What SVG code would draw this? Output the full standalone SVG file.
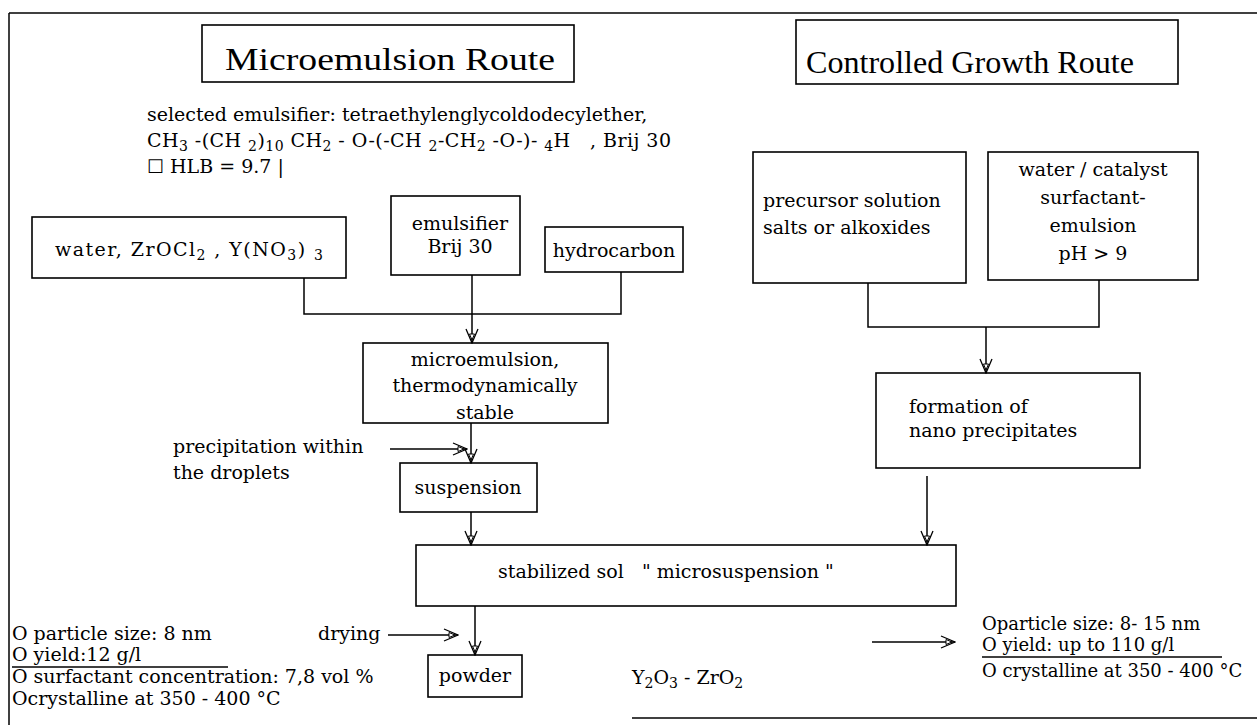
<svg xmlns="http://www.w3.org/2000/svg" width="1259" height="725" viewBox="0 0 1259 725">
<defs>
<marker id="ah" viewBox="0 0 16 14" refX="15" refY="7" markerWidth="16" markerHeight="14" markerUnits="userSpaceOnUse" orient="auto">
<path d="M1,1 L15,7 L1,13" fill="none" stroke="#000" stroke-width="1.3"/>
<path d="M6,4.5 L12,7 L6,9.5 Z" fill="#fff" stroke="#000" stroke-width="1"/>
</marker>
<style>
.b{fill:#fff;stroke:#000;stroke-width:1.6}
.t{font-family:"DejaVu Serif",serif;font-size:19px;fill:#000}
.r{font-size:18px}
.h{font-family:"Liberation Serif",serif;font-size:32px;fill:#000}
.c{text-anchor:middle}
.l{fill:none;stroke:#000;stroke-width:1.5}
.s{font-size:14px}
</style>
</defs>
<rect width="1259" height="725" fill="#fff"/>
<g id="frame" class="l">
<path d="M9,13 H1257"/>
<path d="M9,13 V725"/>
<path d="M632,718 H1257"/>
</g>
<g id="title-micro"><rect class="b" x="202" y="25" width="372" height="57"/><text class="h" x="225" y="70" textLength="330" lengthAdjust="spacingAndGlyphs">Microemulsion Route</text></g>
<g id="title-growth"><rect class="b" x="796" y="20" width="382" height="64"/><text class="h" x="806" y="73" textLength="328" lengthAdjust="spacingAndGlyphs">Controlled Growth Route</text></g>
<g id="emulsifier-info">
<text class="t" x="147" y="121">selected emulsifier: tetraethylenglycoldodecylether,</text>
<text class="t" x="147" y="147" xml:space="preserve" textLength="524" lengthAdjust="spacing">CH<tspan class="s" dy="4">3</tspan><tspan dy="-4"> -(CH </tspan><tspan class="s" dy="4">2</tspan><tspan dy="-4">)</tspan><tspan class="s" dy="4">10</tspan><tspan dy="-4"> CH</tspan><tspan class="s" dy="4">2</tspan><tspan dy="-4"> - O-(-CH </tspan><tspan class="s" dy="4">2</tspan><tspan dy="-4">-CH</tspan><tspan class="s" dy="4">2</tspan><tspan dy="-4"> -O-)- </tspan><tspan class="s" dy="4">4</tspan><tspan dy="-4">H   , Brij 30</tspan></text>
<text class="t" x="147" y="173">☐ HLB = 9.7 |</text>
</g>
<g id="water"><rect class="b" x="32" y="217" width="314" height="61"/><text class="t" x="55" y="256" xml:space="preserve" textLength="268" lengthAdjust="spacing">water, ZrOCl<tspan class="s" dy="4">2</tspan><tspan dy="-4"> , Y(NO</tspan><tspan class="s" dy="4">3</tspan><tspan dy="-4">) </tspan><tspan class="s" dy="4">3</tspan></text></g>
<g id="emulsifier"><rect class="b" x="391" y="196" width="129" height="79"/><text class="t c" x="460" y="230">emulsifier</text><text class="t c" x="460" y="253">Brij 30</text></g>
<g id="hydrocarbon"><rect class="b" x="545" y="227" width="138" height="45"/><text class="t c" x="614" y="257">hydrocarbon</text></g>
<g id="microemulsion"><rect class="b" x="363" y="343" width="245" height="80"/><text class="t c" x="485" y="366">microemulsion,</text><text class="t c" x="485" y="392">thermodynamically</text><text class="t c" x="485" y="419">stable</text></g>
<g id="precip-label"><text class="t" x="173" y="453">precipitation within</text><text class="t" x="173" y="479">the droplets</text></g>
<g id="suspension"><rect class="b" x="400" y="463" width="137" height="49"/><text class="t c" x="468" y="494">suspension</text></g>
<g id="precursor"><rect class="b" x="753" y="152" width="213" height="131"/><text class="t" x="763" y="207">precursor solution</text><text class="t" x="763" y="234">salts or alkoxides</text></g>
<g id="water-catalyst"><rect class="b" x="988" y="152" width="210" height="128"/><text class="t c" x="1093" y="176">water / catalyst</text><text class="t c" x="1093" y="204">surfactant-</text><text class="t c" x="1093" y="232">emulsion</text><text class="t c" x="1093" y="260">pH &gt; 9</text></g>
<g id="formation"><rect class="b" x="876" y="373" width="264" height="95"/><text class="t" x="909" y="413">formation of</text><text class="t" x="909" y="437">nano precipitates</text></g>
<g id="stabilized"><rect class="b" x="416" y="545" width="540" height="61"/><text class="t" x="498" y="578" xml:space="preserve">stabilized sol   " microsuspension "</text></g>
<g id="drying-label"><text class="t" x="318" y="640">drying</text></g>
<g id="powder"><rect class="b" x="428" y="655" width="94" height="42"/><text class="t c" x="475" y="682">powder</text></g>
<g id="product"><text class="t" x="632" y="684">Y<tspan class="s" dy="4">2</tspan><tspan dy="-4">O</tspan><tspan class="s" dy="4">3</tspan><tspan dy="-4"> - ZrO</tspan><tspan class="s" dy="4">2</tspan></text></g>
<g id="props-left">
<text class="t" x="12" y="640">O particle size: 8 nm</text>
<text class="t" x="12" y="661">O yield:12 g/l</text>
<path class="l" d="M12,667 H228" stroke-width="1"/>
<text class="t" x="12" y="683">O surfactant concentration: 7,8 vol %</text>
<text class="t" x="12" y="705">Ocrystalline at 350 - 400 °C</text>
</g>
<g id="props-right">
<text class="t r" x="982" y="630">Oparticle size: 8- 15 nm</text>
<text class="t r" x="982" y="651">O yield: up to 110 g/l</text>
<path class="l" d="M982,657 H1222" stroke-width="1"/>
<text class="t r" x="982" y="677">O crystalline at 350 - 400 °C</text>
</g>
<g id="connectors" class="l">
<path d="M304,278 V314 H621 V272"/>
<path d="M472,275 V343" marker-end="url(#ah)"/>
<path d="M390,449 H467" marker-end="url(#ah)"/>
<path d="M471,423 V463" marker-end="url(#ah)"/>
<path d="M471,512 V545" marker-end="url(#ah)"/>
<path d="M868,283 V327 H1099 V280"/>
<path d="M986,327 V373" marker-end="url(#ah)"/>
<path d="M927,476 V545" marker-end="url(#ah)"/>
<path d="M388,635 H458" marker-end="url(#ah)"/>
<path d="M475,606 V655" marker-end="url(#ah)"/>
<path d="M872,642 H955" marker-end="url(#ah)"/>
</g>
</svg>
